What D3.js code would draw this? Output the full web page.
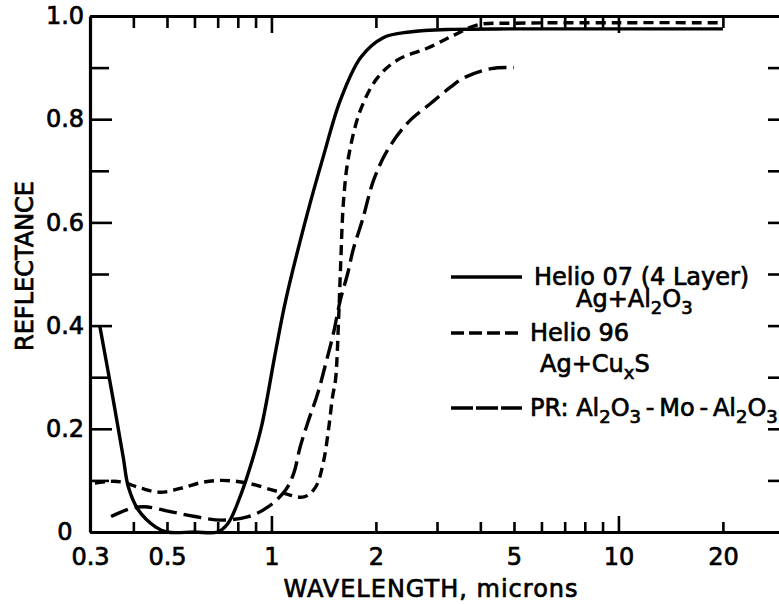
<!DOCTYPE html>
<html>
<head>
<meta charset="utf-8">
<script src="https://cdn.jsdelivr.net/npm/d3@7"></script>
<style>
  html, body { margin: 0; padding: 0; background: #fff; }
  svg { display: block; font-family: "DejaVu Sans", sans-serif; }
  .axis path, .axis line { stroke: #000; }
  .axis text { font-size: 24px; fill: #000; font-family: "DejaVu Sans", sans-serif; stroke: #000; stroke-width: 0.7px; }
  .lbl { stroke: #000; stroke-width: 0.7px; fill: #000; }
</style>
</head>
<body>
<svg id="chart" width="779" height="604"></svg>
<script>
// --- data (wavelength in microns, reflectance 0..1) ---
const wlHelio07 = [0.32, 0.35, 0.374, 0.387, 0.413, 0.463, 0.5, 0.6, 0.7, 0.75, 0.82, 0.876, 0.936, 1.03, 1.1, 1.27, 1.41, 1.58, 1.81, 2.1, 2.5, 3.3, 5, 10, 20];
const rHelio07 = [0.40, 0.256, 0.145, 0.087, 0.043, 0.01, 0.0, 0.0, 0.0, 0.017, 0.076, 0.134, 0.204, 0.353, 0.45, 0.618, 0.727, 0.837, 0.92, 0.958, 0.969, 0.974, 0.975, 0.975, 0.975];

const wlHelio96 = [0.31, 0.34, 0.37, 0.42, 0.478, 0.55, 0.63, 0.72, 0.85, 1.05, 1.24, 1.34, 1.41, 1.46, 1.50, 1.53, 1.561, 1.582, 1.614, 1.668, 1.806, 2.02, 2.31, 2.82, 3.36, 3.93, 5, 10, 20];
const rHelio96 = [0.095, 0.098, 0.097, 0.085, 0.077, 0.085, 0.096, 0.10, 0.095, 0.078, 0.068, 0.087, 0.134, 0.198, 0.262, 0.295, 0.41, 0.514, 0.643, 0.727, 0.818, 0.88, 0.915, 0.938, 0.963, 0.983, 0.986, 0.987, 0.987];

const wlPR = [0.345, 0.395, 0.43, 0.515, 0.603, 0.718, 0.858, 0.98, 1.1, 1.16, 1.21, 1.28, 1.36, 1.45, 1.51, 1.58, 1.66, 1.72, 1.83, 1.97, 2.16, 2.47, 2.88, 3.28, 3.58, 4.3, 5.0];
const rPR = [0.03, 0.046, 0.049, 0.039, 0.03, 0.023, 0.03, 0.049, 0.082, 0.114, 0.165, 0.217, 0.269, 0.339, 0.386, 0.45, 0.502, 0.547, 0.605, 0.682, 0.74, 0.793, 0.831, 0.862, 0.88, 0.898, 0.90];

const seriesNames = ["Helio 07 (4 Layer)", "Helio 96", "PR: Al_2O_3\u2009-\u2009Mo\u2009-\u2009Al_2O_3"];
const seriesSubs = ["Ag+Al_2O_3", "Ag+Cu_xS", ""];

const xLabelTicks = [0.3, 0.5, 1, 2, 5, 10, 20];
const xMajorTicks = [1, 10];
const xMinorTicks = [0.4, 0.5, 0.6, 0.7, 0.8, 0.9, 2, 3, 4, 5, 6, 7, 8, 9, 20];
const yLabelTicks = [0, 0.2, 0.4, 0.6, 0.8, 1.0];
const yMinorTicks = [0.1, 0.3, 0.5, 0.7, 0.9];
const yRightTicks = [0.1, 0.2, 0.3, 0.4, 0.5, 0.6, 0.7, 0.8, 0.9];

// --- layout ---
const LEFT = 90, RIGHT = 784, TOP = 16, BOTTOM = 532;

const svg = d3.select("#chart");

const x = d3.scaleLog().domain([0.3, 30]).range([LEFT, RIGHT]);
const y = d3.scaleLinear().domain([0, 1]).range([BOTTOM, TOP]);

function styleAxis(g, width) {
  g.attr("class", "axis");
  g.selectAll("path").attr("stroke-width", width).attr("fill", "none");
  g.selectAll("line").attr("stroke-width", 2.6);
}

// bottom axis: labels + major ticks
svg.append("g")
  .attr("transform", `translate(0,${BOTTOM})`)
  .call(d3.axisBottom(x).tickValues(xLabelTicks).tickSize(0).tickSizeOuter(0)
    .tickPadding(16).tickFormat(d3.format("")))
  .call((g) => styleAxis(g, 3.2));

svg.append("g")
  .attr("transform", `translate(0,${BOTTOM})`)
  .call(d3.axisBottom(x).tickValues(xMajorTicks).tickSize(-16).tickFormat(""))
  .call((g) => { styleAxis(g, 0); g.select("path").remove(); });

svg.append("g")
  .attr("transform", `translate(0,${BOTTOM})`)
  .call(d3.axisBottom(x).tickValues(xMinorTicks).tickSize(-10).tickFormat(""))
  .call((g) => { styleAxis(g, 0); g.select("path").remove(); });

// top axis
svg.append("g")
  .attr("transform", `translate(0,${TOP})`)
  .call(d3.axisTop(x).tickValues(xMajorTicks).tickSize(-17).tickSizeOuter(0).tickFormat(""))
  .call((g) => styleAxis(g, 3.2));

svg.append("g")
  .attr("transform", `translate(0,${TOP})`)
  .call(d3.axisTop(x).tickValues(xMinorTicks).tickSize(-12).tickFormat(""))
  .call((g) => { styleAxis(g, 0); g.select("path").remove(); });

// left axis
const left = svg.append("g")
  .attr("transform", `translate(${LEFT},0)`)
  .call(d3.axisLeft(y).tickValues(yLabelTicks).tickSize(-22).tickSizeOuter(0)
    .tickFormat((d) => (d === 0 ? "0" : d.toFixed(1))))
  .call((g) => styleAxis(g, 3.2));
left.selectAll("text").attr("text-anchor", "middle").attr("x", -25);

svg.append("g")
  .attr("transform", `translate(${LEFT},0)`)
  .call(d3.axisLeft(y).tickValues(yMinorTicks).tickSize(-19).tickFormat(""))
  .call((g) => { styleAxis(g, 0); g.select("path").remove(); });

// right axis (spine sits just outside the frame)
svg.append("g")
  .attr("transform", `translate(${RIGHT},0)`)
  .call(d3.axisRight(y).tickValues(yRightTicks).tickSize(-16).tickSizeOuter(0).tickFormat(""))
  .call((g) => styleAxis(g, 3.2));

// axis titles
svg.append("text")
  .attr("class", "lbl")
  .attr("x", 431).attr("y", 597)
  .attr("text-anchor", "middle")
  .style("font-size", "24px")
  .style("letter-spacing", "1px")
  .text("WAVELENGTH, microns");

svg.append("text")
  .attr("class", "lbl")
  .attr("transform", "translate(33,266) rotate(-90)")
  .attr("text-anchor", "middle")
  .style("font-size", "24px")
  .text("REFLECTANCE");

// curves
const series = [
  { wl: wlHelio07, r: rHelio07, dash: null, legendDash: null },
  { wl: wlHelio96, r: rHelio96, dash: "10,6", legendDash: "13,5" },
  { wl: wlPR, r: rPR, dash: "18,7", legendDash: "22,3" },
];

const line = d3.line()
  .x((d) => x(d[0]))
  .y((d) => y(d[1]))
  .curve(d3.curveCatmullRom.alpha(0.5));

svg.append("g")
  .selectAll("path")
  .data(series)
  .enter()
  .append("path")
  .attr("d", (s) => line(s.wl.map((w, i) => [w, s.r[i]])))
  .attr("fill", "none")
  .attr("stroke", "#000")
  .attr("stroke-width", 3.4)
  .attr("stroke-dasharray", (s) => s.dash);

// legend
const SUB_SHIFT = 7;
function richText(sel, str) {
  // "_c" marks a subscript character; the next normal run shifts back up
  const parts = str.split(/(_.)/).filter((p) => p.length);
  let lowered = false;
  parts.forEach((p) => {
    if (p[0] === "_") {
      sel.append("tspan")
        .attr("dy", lowered ? 0 : SUB_SHIFT)
        .style("font-size", "18px")
        .text(p[1]);
      lowered = true;
    } else {
      sel.append("tspan")
        .attr("dy", lowered ? -SUB_SHIFT : 0)
        .text(p);
      lowered = false;
    }
  });
}

const legendRows = [
  { y: 277, tx: 534, subX: 576, subDy: 22 },
  { y: 333, tx: 530, subX: 540, subDy: 31 },
  { y: 408, tx: 530, subX: 0, subDy: 0 },
];

const legend = svg.append("g").attr("class", "legend");
legendRows.forEach((row, i) => {
  legend.append("line")
    .attr("x1", 451).attr("x2", 522)
    .attr("y1", row.y).attr("y2", row.y)
    .attr("stroke", "#000")
    .attr("stroke-width", 3.4)
    .attr("stroke-dasharray", series[i].legendDash);
  const t = legend.append("text")
    .attr("class", "lbl")
    .attr("x", row.tx).attr("y", row.y + 8)
    .style("font-size", "24px");
  richText(t, seriesNames[i]);
  if (seriesSubs[i]) {
    const s = legend.append("text")
      .attr("class", "lbl")
      .attr("x", row.subX).attr("y", row.y + 8 + row.subDy)
      .style("font-size", "24px");
    richText(s, seriesSubs[i]);
  }
});
</script>
</body>
</html>
